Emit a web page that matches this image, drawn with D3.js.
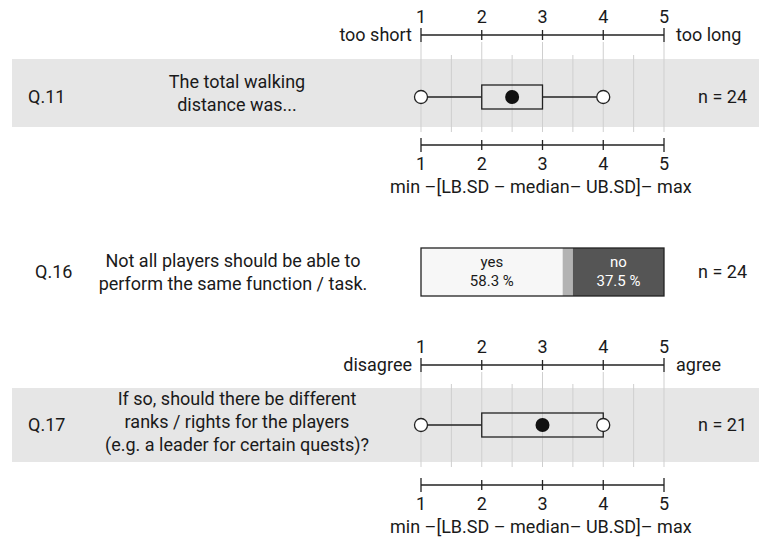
<!DOCTYPE html>
<html>
<head>
<meta charset="utf-8">
<script src="https://cdn.jsdelivr.net/npm/d3@7"></script>
<style>
  html, body { margin: 0; padding: 0; background: #fff; }
  svg { display: block; font-family: Roboto, "Open Sans", sans-serif; }
</style>
</head>
<body>
<svg id="chart" width="759" height="540"></svg>
<script>
// Likert-scale questions: box summaries (min, LB.SD, median, UB.SD, max)
const boxIds = ["Q.11", "Q.17"];
const boxQuestions = [
  ["The total walking", "distance was..."],
  ["If so, should there be different", "ranks / rights for the players", "(e.g. a leader for certain quests)?"]
];
const boxLeftLabels = ["too short", "disagree"];
const boxRightLabels = ["too long", "agree"];
const boxMin = [1, 1];
const boxLB = [2, 2];
const boxMedian = [2.5, 3];
const boxUB = [3, 4];
const boxMax = [4, 4];
const boxN = [24, 21];

// Yes / no question
const ynId = "Q.16";
const ynQuestion = ["Not all players should be able to", "perform the same function / task."];
const ynCategories = ["yes", "n/a", "no"];
const ynValues = [58.3, 4.2, 37.5];
const ynN = 24;

const tickValues = [1, 2, 3, 4, 5];
const gridValues = [1, 1.5, 2, 2.5, 3, 3.5, 4, 4.5, 5];
const caption = "min \u2013[LB.SD \u2013 median\u2013 UB.SD]\u2013 max";

const svg = d3.select("#chart");
const x = d3.scaleLinear().domain([1, 5]).range([421, 664]);

const fs = 18;
const textColor = "#1a1a1a";

// vertical layout for each box-plot block
const layouts = [
  { axisTop: 35, bandTop: 59, bandBottom: 127, axisBottom: 145, yCenter: 97, textShift: -4 },
  { axisTop: 365, bandTop: 388, bandBottom: 462, axisBottom: 485, yCenter: 425, textShift: -3 }
];

function drawAxis(g, y, labelsAbove) {
  g.append("line")
    .attr("x1", x(1)).attr("x2", x(5))
    .attr("y1", y).attr("y2", y)
    .attr("stroke", "#222").attr("stroke-width", 1.3);
  g.selectAll(null).data(tickValues).join("line")
    .attr("x1", d => x(d)).attr("x2", d => x(d))
    .attr("y1", d => (d === 1 || d === 5) ? y - 7 : y - 5)
    .attr("y2", d => (d === 1 || d === 5) ? y + 7 : y + 5)
    .attr("stroke", "#222").attr("stroke-width", 1.3);
  g.selectAll(null).data(tickValues).join("text")
    .attr("x", d => x(d))
    .attr("y", labelsAbove ? y - 12 : y + 25)
    .attr("text-anchor", "middle")
    .attr("font-size", fs).attr("fill", textColor)
    .text(d => d);
}

boxIds.forEach((id, i) => {
  const L = layouts[i];
  const g = svg.append("g");

  // shaded row band
  g.append("rect")
    .attr("x", 12).attr("y", L.bandTop)
    .attr("width", 759 - 12).attr("height", L.bandBottom - L.bandTop)
    .attr("fill", "#e6e6e6");

  // grid lines
  g.selectAll(null).data(gridValues).join("line")
    .attr("x1", d => x(d)).attr("x2", d => x(d))
    .attr("y1", d => Number.isInteger(d) ? L.axisTop + 7 : L.bandTop - 4)
    .attr("y2", L.bandBottom + 5)
    .attr("stroke", "#cfcfcf").attr("stroke-width", 1);

  // axes
  drawAxis(g, L.axisTop, true);
  drawAxis(g, L.axisBottom, false);

  g.append("text")
    .attr("x", x(1) - 9).attr("y", L.axisTop + 6)
    .attr("text-anchor", "end").attr("font-size", fs).attr("fill", textColor)
    .text(boxLeftLabels[i]);
  g.append("text")
    .attr("x", x(5) + 12).attr("y", L.axisTop + 6)
    .attr("text-anchor", "start").attr("font-size", fs).attr("fill", textColor)
    .text(boxRightLabels[i]);

  g.append("text")
    .attr("x", 390).attr("y", L.axisBottom + 48)
    .attr("font-size", fs).attr("fill", textColor)
    .text(caption);

  // whiskers
  const yc = L.yCenter;
  g.append("line")
    .attr("x1", x(boxMin[i])).attr("x2", x(boxLB[i]))
    .attr("y1", yc).attr("y2", yc)
    .attr("stroke", "#222").attr("stroke-width", 1.3);
  g.append("line")
    .attr("x1", x(boxUB[i])).attr("x2", x(boxMax[i]))
    .attr("y1", yc).attr("y2", yc)
    .attr("stroke", "#222").attr("stroke-width", 1.3);

  // box
  g.append("rect")
    .attr("x", x(boxLB[i])).attr("y", yc - 12)
    .attr("width", x(boxUB[i]) - x(boxLB[i])).attr("height", 24)
    .attr("fill", "none").attr("stroke", "#222").attr("stroke-width", 1.3);

  // min / max markers
  g.selectAll(null).data([boxMin[i], boxMax[i]]).join("circle")
    .attr("cx", d => x(d)).attr("cy", yc).attr("r", 6.5)
    .attr("fill", "#fff").attr("stroke", "#222").attr("stroke-width", 1.3);

  // median
  g.append("circle")
    .attr("cx", x(boxMedian[i])).attr("cy", yc).attr("r", 7)
    .attr("fill", "#111");

  // labels
  g.append("text")
    .attr("x", 28).attr("y", yc + 6)
    .attr("font-size", fs).attr("fill", textColor)
    .text(id);
  const lines = boxQuestions[i];
  const lh = 23;
  g.append("text")
    .attr("text-anchor", "middle").attr("font-size", fs).attr("fill", textColor)
    .selectAll("tspan").data(lines).join("tspan")
    .attr("x", 237)
    .attr("y", (d, k) => yc + 6 + L.textShift + (k - (lines.length - 1) / 2) * lh)
    .text(d => d);
  g.append("text")
    .attr("x", 747).attr("y", yc + 6)
    .attr("text-anchor", "end").attr("font-size", fs).attr("fill", textColor)
    .text("n = " + boxN[i]);
});

// stacked yes / no bar
{
  const g = svg.append("g");
  const yTop = 248, h = 48, yc = 272;
  const pct = d3.scaleLinear().domain([0, 100]).range([x(1), x(5)]);
  const cum = d3.cumsum(ynValues);
  const segs = ynCategories.map((c, k) => ({ c, v: ynValues[k], start: k ? cum[k - 1] : 0, end: cum[k] }));
  const fills = { "yes": "#f7f7f7", "n/a": "#b3b3b3", "no": "#555555" };

  g.selectAll(null).data(segs).join("rect")
    .attr("x", d => pct(d.start)).attr("y", yTop)
    .attr("width", d => pct(d.end) - pct(d.start)).attr("height", h)
    .attr("fill", d => fills[d.c]);
  g.append("rect")
    .attr("x", pct(0)).attr("y", yTop)
    .attr("width", pct(100) - pct(0)).attr("height", h)
    .attr("fill", "none").attr("stroke", "#222").attr("stroke-width", 1.3);

  const labeled = segs.filter(d => d.c !== "n/a");
  const t = g.selectAll(null).data(labeled).join("text")
    .attr("text-anchor", "middle").attr("font-size", 15)
    .attr("fill", d => d.c === "no" ? "#fff" : textColor);
  t.append("tspan")
    .attr("x", d => (pct(d.start) + pct(d.end)) / 2).attr("y", yTop + 19)
    .text(d => d.c);
  t.append("tspan")
    .attr("x", d => (pct(d.start) + pct(d.end)) / 2).attr("y", yTop + 38)
    .text(d => d.v.toFixed(1) + " %");

  g.append("text")
    .attr("x", 35).attr("y", yc + 6)
    .attr("font-size", fs).attr("fill", textColor)
    .text(ynId);
  g.append("text")
    .attr("text-anchor", "middle").attr("font-size", fs).attr("fill", textColor)
    .selectAll("tspan").data(ynQuestion).join("tspan")
    .attr("x", 233)
    .attr("y", (d, k) => yc + 6 + (k - 0.5) * 23)
    .text(d => d);
  g.append("text")
    .attr("x", 747).attr("y", yc + 6)
    .attr("text-anchor", "end").attr("font-size", fs).attr("fill", textColor)
    .text("n = " + ynN);
}
</script>
</body>
</html>
